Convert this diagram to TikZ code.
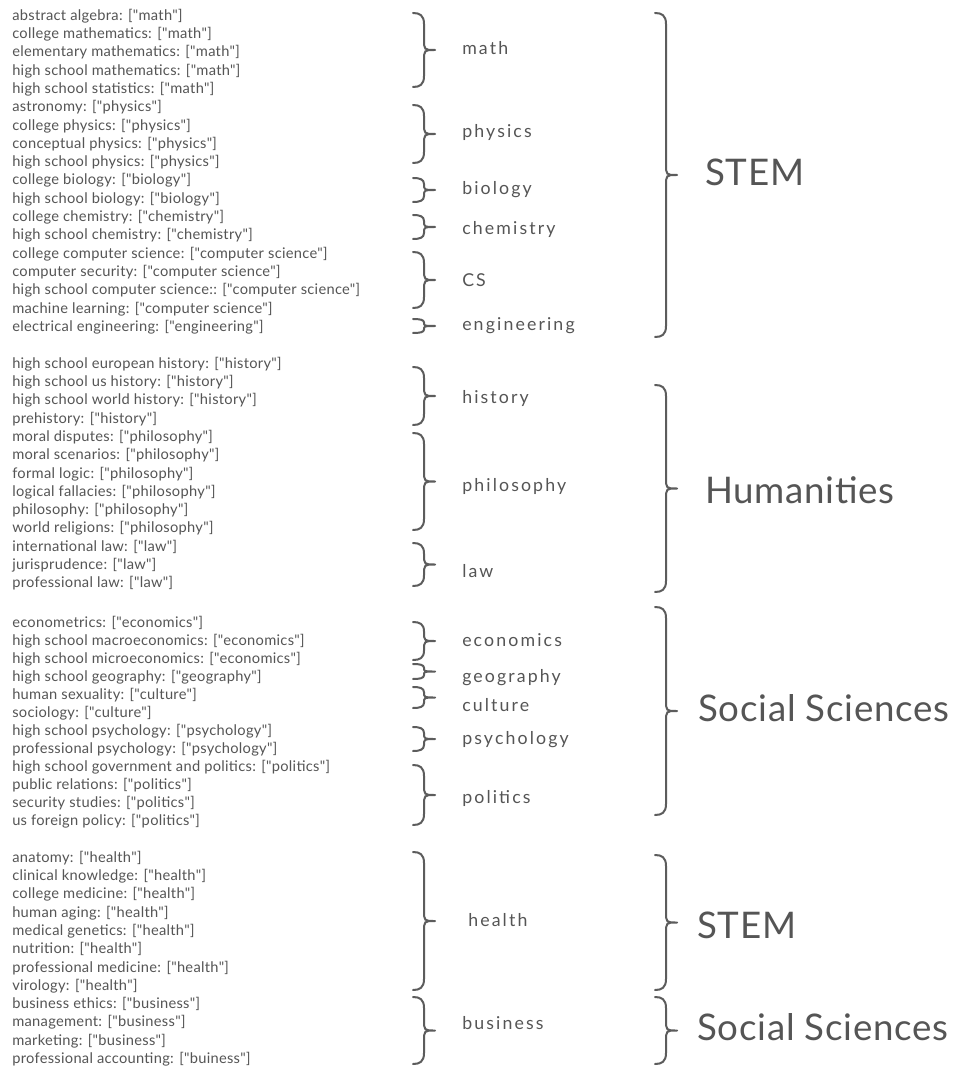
\documentclass[tikz,border=0pt]{standalone}
\usepackage{fontspec}
\setmainfont{Lato}
\newfontfamily\itemfont[LetterSpace=2]{Lato}
\newfontfamily\labfont[LetterSpace=12]{Lato}
\newfontfamily\bigfont[LetterSpace=2]{Lato}
\definecolor{txt}{HTML}{555555}
\definecolor{brc}{HTML}{5C5C5C}
\tikzset{
  item/.style={anchor=west, inner sep=0pt, text=txt, font=\itemfont\fontsize{11}{12}\selectfont, text height=7.9pt, text depth=0pt},
  sublabel/.style={anchor=west, inner sep=0pt, text=txt, font=\labfont\fontsize{13.3}{15}\selectfont, text height=9.6pt, text depth=0pt},
  biglabel/.style={anchor=west, inner sep=0pt, text=txt, font=\bigfont\fontsize{27.5}{32}\selectfont, text height=19.8pt, text depth=0pt},
  bracestyle/.style={draw=brc, line width=1.5pt, line cap=round, line join=round}
}
\newcommand\mybrace[4]{%
  \pgfmathsetmacro\bm{(#2+#3)/2}%
  \pgfmathsetmacro\br{min(#4*0.5,(#3-#2)/4)}%
  \pgfmathsetmacro\bh{#1+#4/2}%
  \pgfmathsetmacro\bt{#1+#4}%
  \pgfmathsetmacro\bq{#1+#4*0.3}%
  \draw[bracestyle] (#1,#2) .. controls (\bq,#2) and (\bh,#2+0.2*\br) .. (\bh,#2+\br) -- (\bh,\bm-\br) .. controls (\bh,\bm) .. (\bt,\bm) .. controls (\bh,\bm) .. (\bh,\bm+\br) -- (\bh,#3-\br) .. controls (\bh,#3-0.2*\br) and (\bq,#3) .. (#1,#3);%
}
\begin{document}
\begin{tikzpicture}[x=0.75pt,y=-0.75pt]
\useasboundingbox[fill=white] (0,0) rectangle (956,1069);
% block 1
\foreach \t [count=\k from 0] in {abstract algebra: ["math"],college mathematics: ["math"],elementary mathematics: ["math"],high school mathematics: ["math"],high school statistics: ["math"],astronomy: ["physics"],college physics: ["physics"],conceptual physics: ["physics"],high school physics: ["physics"],college biology: ["biology"],high school biology: ["biology"],college chemistry: ["chemistry"],high school chemistry: ["chemistry"],college computer science: ["computer science"],computer security: ["computer science"],high school computer science:: ["computer science"],machine learning: ["computer science"],electrical engineering: ["engineering"]}
  \node[item] (a\k) at (12,{15+18.3*\k}) {\t};
% block 2
\foreach \t [count=\k from 0] in {high school european history: ["history"],high school us history: ["history"],high school world history: ["history"],prehistory: ["history"],moral disputes: ["philosophy"],moral scenarios: ["philosophy"],formal logic: ["philosophy"],logical fallacies: ["philosophy"],philosophy: ["philosophy"],world religions: ["philosophy"],international law: ["law"],jurisprudence: ["law"],professional law: ["law"]}
  \node[item] (b\k) at (12,{363+18.3*\k}) {\t};
% block 3
\foreach \t [count=\k from 0] in {econometrics: ["economics"],high school macroeconomics: ["economics"],high school microeconomics: ["economics"],high school geography: ["geography"],human sexuality: ["culture"],sociology: ["culture"],high school psychology: ["psychology"],professional psychology: ["psychology"],high school government and politics: ["politics"],public relations: ["politics"],security studies: ["politics"],us foreign policy: ["politics"]}
  \node[item] (c\k) at (12,{622+18*\k}) {\t};
% block 4
\foreach \t [count=\k from 0] in {anatomy: ["health"],clinical knowledge: ["health"],college medicine: ["health"],human aging: ["health"],medical genetics: ["health"],nutrition: ["health"],professional medicine: ["health"],virology: ["health"],business ethics: ["business"],management: ["business"],marketing: ["business"],professional accounting: ["buiness"]}
  \node[item] (d\k) at (12,{857+18.3*\k}) {\t};

% small braces
\mybrace{413}{13}{87}{22}
\mybrace{413}{105}{163}{22}
\mybrace{413}{178}{202}{22}
\mybrace{413}{215}{239}{22}
\mybrace{413}{252}{308}{22}
\mybrace{413}{319}{333}{22}
\mybrace{413}{367}{425}{22}
\mybrace{413}{433}{530}{22}
\mybrace{413}{543}{586}{22}
\mybrace{413}{622}{660}{22}
\mybrace{413}{664}{679}{22}
\mybrace{413}{687}{708}{22}
\mybrace{413}{727}{751}{22}
\mybrace{413}{765}{825}{22}
\mybrace{413}{852}{990}{22}
\mybrace{413}{997}{1064}{22}
% big braces
\mybrace{655}{13}{337}{22}
\mybrace{655}{385}{592}{22}
\mybrace{655}{607}{815}{22}
\mybrace{655}{855}{990}{22}
\mybrace{655}{997}{1064}{22}

% sub labels
\node[sublabel] (math) at (462,48) {math};
\node[sublabel] (physics) at (462,131) {physics};
\node[sublabel] (biology) at (462,188) {biology};
\node[sublabel] (chemistry) at (462,228) {chemistry};
\node[sublabel] (cs) at (462,280) {CS};
\node[sublabel] (engineering) at (462,324) {engineering};
\node[sublabel] (history) at (462,397) {history};
\node[sublabel] (philosophy) at (462,485) {philosophy};
\node[sublabel] (law) at (462,571) {law};
\node[sublabel] (economics) at (462,640) {economics};
\node[sublabel] (geography) at (462,676) {geography};
\node[sublabel] (culture) at (462,705) {culture};
\node[sublabel] (psychology) at (462,738) {psychology};
\node[sublabel] (politics) at (462,797) {politics};
\node[sublabel] (health) at (468,920) {health};
\node[sublabel] (business) at (462,1023) {business};
% big labels
\node[biglabel] (stem) at (705,172) {STEM};
\node[biglabel] (hum) at (705,490) {Humanities};
\node[biglabel] (soc) at (698,708) {Social Sciences};
\node[biglabel] (stem2) at (697,925) {STEM};
\node[biglabel] (soc2) at (697,1027) {Social Sciences};
\end{tikzpicture}
\end{document}
